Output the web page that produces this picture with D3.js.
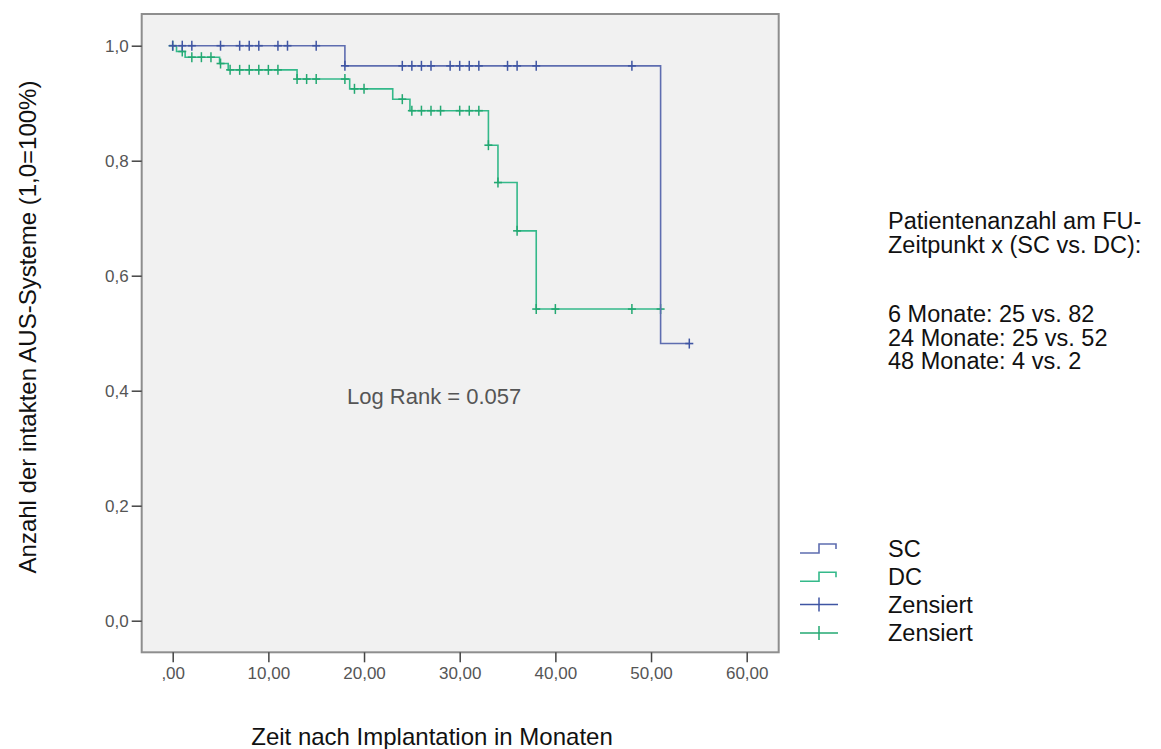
<!DOCTYPE html>
<html>
<head>
<meta charset="utf-8">
<script src="https://cdn.jsdelivr.net/npm/d3@7"></script>
<style>
  body { margin: 0; background: #fff; }
  text { font-family: "Liberation Sans", Arial, sans-serif; }
</style>
</head>
<body>
<div id="chart"></div>
<script>
// data
var scEventTimes = [18, 51];
var scSurvival = [0.965, 0.482];
var scCensored = [0, 1, 2, 5, 7, 8, 9, 11, 12, 15, 18, 24, 25, 26, 27, 29, 30, 31, 32, 35, 36, 38, 48, 54];

var dcEventTimes = [0.4, 1.3, 4.9, 5.8, 13, 18.5, 23, 24.8, 33, 34, 36, 38];
var dcSurvival = [0.990, 0.980, 0.969, 0.958, 0.942, 0.925, 0.907, 0.887, 0.827, 0.762, 0.678, 0.542];
var dcCensored = [0, 1, 2, 3, 4, 5, 6, 7, 8, 9, 10, 11, 13, 14, 15, 18, 19, 20, 24, 25, 26, 27, 28, 30, 31, 32, 33, 34, 36, 38, 40, 48, 51];

var xTicks = [0, 10, 20, 30, 40, 50, 60];
var yTicks = [0, 0.2, 0.4, 0.6, 0.8, 1.0];
var infoHeader = ["Patientenanzahl am FU-", "Zeitpunkt x (SC vs. DC):"];
var infoCounts = ["6 Monate: 25 vs. 82", "24 Monate: 25 vs. 52", "48 Monate: 4 vs. 2"];
var legendItems = ["SC", "DC", "Zensiert", "Zensiert"];

var blue = "#5e6db0", blueDark = "#3f55a3";
var green = "#34b98a", greenDark = "#23a872";

// set parameters
var svgWidth = 1161, svgHeight = 749;
var frame = {left: 141.7, top: 14, right: 778.7, bottom: 652.3};

var svg = d3.select("#chart")
    .append("svg")
    .attr("width", svgWidth)
    .attr("height", svgHeight);

var xScale = d3.scaleLinear().domain([0, 60]).range([172.7, 746.7]);
var yScale = d3.scaleLinear().domain([0, 1]).range([620.7, 45.7]);

// plot area
svg.append("rect")
    .attr("x", frame.left)
    .attr("y", frame.top)
    .attr("width", frame.right - frame.left)
    .attr("height", frame.bottom - frame.top)
    .attr("fill", "#f1f1f1")
    .attr("stroke", "#8e8e8e")
    .attr("stroke-width", 2);

// axes
var comma = function(s) { return s.replace(".", ","); };
var bottomAxis = d3.axisBottom(xScale)
    .tickValues(xTicks)
    .tickSize(10)
    .tickPadding(5)
    .tickFormat(d => d === 0 ? ",00" : comma(d3.format(".2f")(d)));
var leftAxis = d3.axisLeft(yScale)
    .tickValues(yTicks)
    .tickSize(10)
    .tickPadding(3)
    .tickFormat(d => comma(d3.format(".1f")(d)));

var gx = svg.append("g")
    .attr("transform", `translate(0, ${frame.bottom})`)
    .call(bottomAxis);
var gy = svg.append("g")
    .attr("transform", `translate(${frame.left}, 0)`)
    .call(leftAxis);

[gx, gy].forEach(function(g) {
    g.select(".domain").remove();
    g.selectAll(".tick line").attr("stroke", "#444").attr("stroke-width", 1.5);
    g.selectAll(".tick text")
        .attr("fill", "#555")
        .style("font-size", "17px")
        .style("font-family", "'Liberation Sans', Arial, sans-serif");
});

// step curves
function stepPoints(times, surv, lastTime) {
    var pts = [[0, 1]];
    times.forEach((t, i) => pts.push([t, surv[i]]));
    pts.push([lastTime, surv[surv.length - 1]]);
    return pts;
}
function levelAt(times, surv, t) {
    var s = 1;
    times.forEach((e, i) => { if (e <= t) s = surv[i]; });
    return s;
}

var line = d3.line()
    .x(d => xScale(d[0]))
    .y(d => yScale(d[1]))
    .curve(d3.curveStepAfter);

var groups = [
    {times: dcEventTimes, surv: dcSurvival, cens: dcCensored, color: green, mark: greenDark},
    {times: scEventTimes, surv: scSurvival, cens: scCensored, color: blue, mark: blueDark}
];

groups.forEach(function(g) {
    var lastTime = d3.max(g.cens);
    svg.append("path")
        .datum(stepPoints(g.times, g.surv, lastTime))
        .attr("d", line)
        .attr("fill", "none")
        .attr("stroke", g.color)
        .attr("stroke-width", 1.6);

    var marks = svg.append("g").selectAll("g")
        .data(g.cens)
        .enter()
        .append("g")
        .attr("transform", d => `translate(${xScale(d)}, ${yScale(levelAt(g.times, g.surv, d))})`);
    marks.append("line")
        .attr("x1", 0).attr("x2", 0).attr("y1", -5).attr("y2", 5)
        .attr("stroke", g.mark).attr("stroke-width", 1.5);
    marks.append("line")
        .attr("x1", -4).attr("x2", 4).attr("y1", 0).attr("y2", 0)
        .attr("stroke", g.mark).attr("stroke-width", 1.6);
});

// annotation
svg.append("text")
    .attr("x", 347)
    .attr("y", 404)
    .attr("fill", "#555")
    .style("font-size", "22px")
    .text("Log Rank = 0.057");

// axis titles
svg.append("text")
    .attr("transform", "translate(36, 327) rotate(-90)")
    .attr("text-anchor", "middle")
    .attr("fill", "#111")
    .style("font-size", "24px")
    .text("Anzahl der intakten AUS-Systeme (1,0=100%)");

svg.append("text")
    .attr("x", 432)
    .attr("y", 745)
    .attr("text-anchor", "middle")
    .attr("fill", "#111")
    .style("font-size", "24px")
    .text("Zeit nach Implantation in Monaten");

// patient counts
svg.append("g").selectAll("text")
    .data(infoHeader)
    .enter()
    .append("text")
    .attr("x", 888)
    .attr("y", (d, i) => 229 + i * 23.5)
    .attr("fill", "#111")
    .style("font-size", "23.5px")
    .text(d => d);

svg.append("g").selectAll("text")
    .data(infoCounts)
    .enter()
    .append("text")
    .attr("x", 888)
    .attr("y", (d, i) => 322 + i * 23.5)
    .attr("fill", "#111")
    .style("font-size", "23.5px")
    .text(d => d);

// legend
var legendColors = [blue, green, blueDark, greenDark];
var legend = svg.append("g").selectAll("g")
    .data(legendItems)
    .enter()
    .append("g")
    .attr("transform", (d, i) => `translate(0, ${548 + i * 28.3})`);

legend.append("text")
    .attr("x", 888)
    .attr("y", 8.5)
    .attr("fill", "#111")
    .style("font-size", "23.5px")
    .text(d => d);

legend.filter((d, i) => i < 2).append("path")
    .attr("d", "M800,5H819V-4H836V1")
    .attr("fill", "none")
    .attr("stroke", (d, i) => legendColors[i])
    .attr("stroke-width", 1.6);

legend.filter((d, i) => i >= 2).each(function(d, i) {
    var g = d3.select(this);
    g.append("line").attr("x1", 800).attr("x2", 838).attr("y1", 0).attr("y2", 0)
        .attr("stroke", legendColors[i + 2]).attr("stroke-width", 1.5);
    g.append("line").attr("x1", 819).attr("x2", 819).attr("y1", -7).attr("y2", 7)
        .attr("stroke", legendColors[i + 2]).attr("stroke-width", 1.5);
});
</script>
</body>
</html>
